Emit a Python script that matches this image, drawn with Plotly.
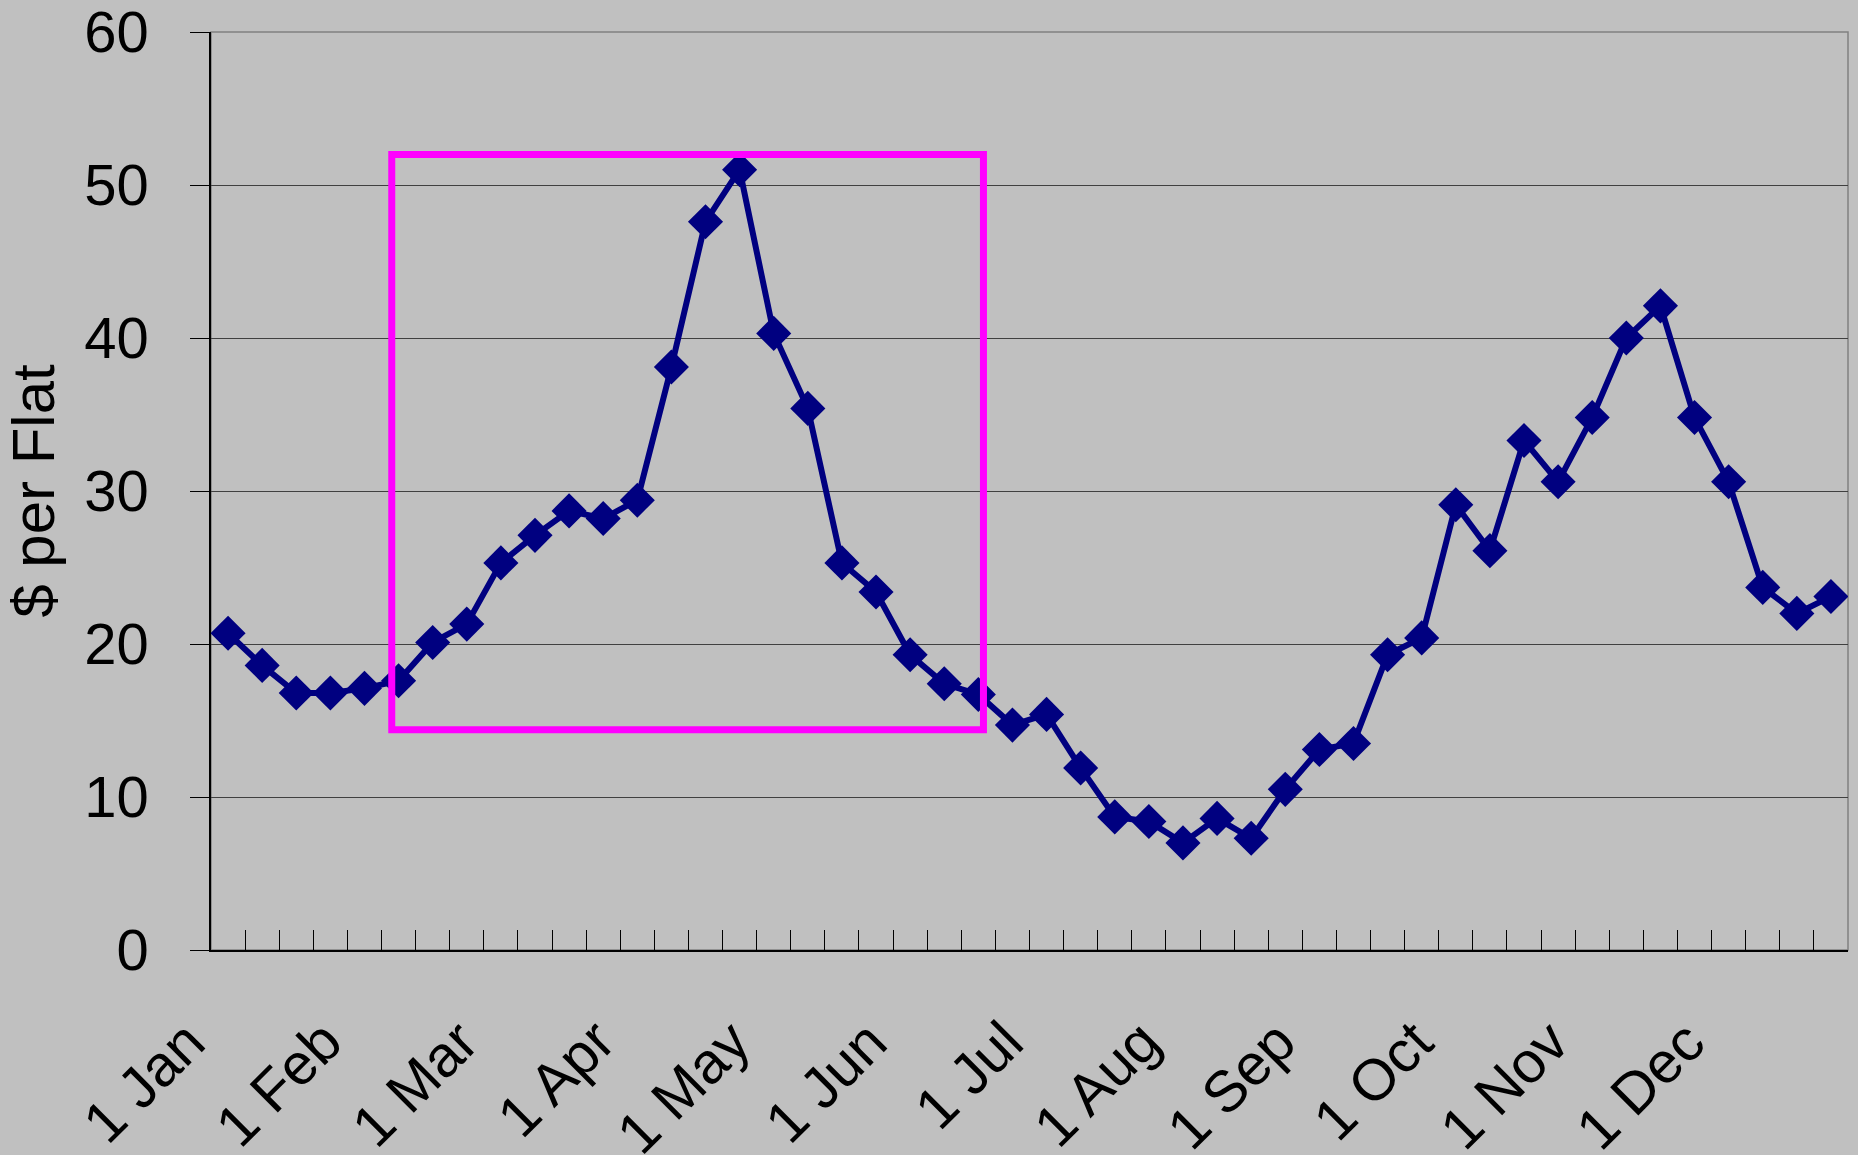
import plotly.graph_objects as go

# weekly price, 48 weeks (4 per month)
weeks = list(range(48))
price = [20.7, 18.6, 16.8, 16.8, 17.1, 17.6, 20.1, 21.3,
         25.3, 27.1, 28.7, 28.2, 29.4, 38.1, 47.6, 51.0,
         40.3, 35.4, 25.3, 23.4, 19.3, 17.4, 16.7, 14.7,
         15.4, 11.9, 8.7, 8.4, 7.0, 8.6, 7.3, 10.5,
         13.1, 13.5, 19.3, 20.4, 29.1, 26.1, 33.3, 30.6,
         34.8, 40.0, 42.1, 34.8, 30.6, 23.7, 22.0, 23.1]

month_labels = ['1 Jan', '1 Feb', '1 Mar', '1 Apr', '1 May', '1 Jun',
                '1 Jul', '1 Aug', '1 Sep', '1 Oct', '1 Nov', '1 Dec']
month_start = [4 * i for i in range(12)]

y_ticks = [0, 10, 20, 30, 40, 50, 60]

# highlighted period (week index / price)
box = dict(x0=4.8, x1=22.15, y0=14.4, y1=52.0)

FONT = 'Arial, Liberation Sans, sans-serif'
BG = '#C0C0C0'

fig = go.Figure()
fig.add_trace(go.Scatter(
    x=weeks, y=price, mode='lines+markers',
    line=dict(color='#000080', width=6),
    marker=dict(symbol='diamond', size=27, color='#000080'),
    showlegend=False, hoverinfo='skip'))

fig.add_shape(type='rect', xref='paper', yref='paper',
              x0=0, x1=1, y0=0, y1=1,
              line=dict(color='#808080', width=1.5), layer='below')
fig.add_shape(type='rect', xref='x', yref='y', **box,
              line=dict(color='#FF00FF', width=7))

# month labels as annotations at the start of each month
# (the first one would be dropped as a tick label left of the range)
for m, lab in zip(month_start, month_labels):
    fig.add_annotation(x=m - 0.49, xref='x', y=-0.06, yref='paper',
                       xshift=8,
                       text=lab, textangle=-45, showarrow=False,
                       xanchor='right', yanchor='top',
                       font=dict(size=58))

fig.update_layout(
    width=1858, height=1155,
    margin=dict(l=211, r=10, t=32, b=205),
    paper_bgcolor=BG, plot_bgcolor=BG,
    font=dict(family=FONT, color='black', size=58),
    xaxis=dict(range=[-0.5, 47.5], tick0=-0.5, dtick=1,
               ticks='inside', ticklen=20, tickcolor='black', tickwidth=1,
               showticklabels=False, showgrid=False, zeroline=False,
               showline=True, linecolor='black', linewidth=1.5,
               automargin=False),
    yaxis=dict(range=[0, 60], tickvals=y_ticks,
               ticks='outside', ticklen=19, tickcolor='black',
               showgrid=True, gridcolor='#404040', gridwidth=1,
               zeroline=False, showline=True, linecolor='black',
               linewidth=1.5, ticklabelstandoff=30,
               ticklabeloverflow='allow', automargin=False,
               title=dict(text='$ per Flat', font=dict(size=60),
                          standoff=25)),
)

fig.write_html('out.html', config=dict(displayModeBar=False), post_script=(
    "document.body.style.margin='0';"
    "document.body.style.background='%s';" % BG))
